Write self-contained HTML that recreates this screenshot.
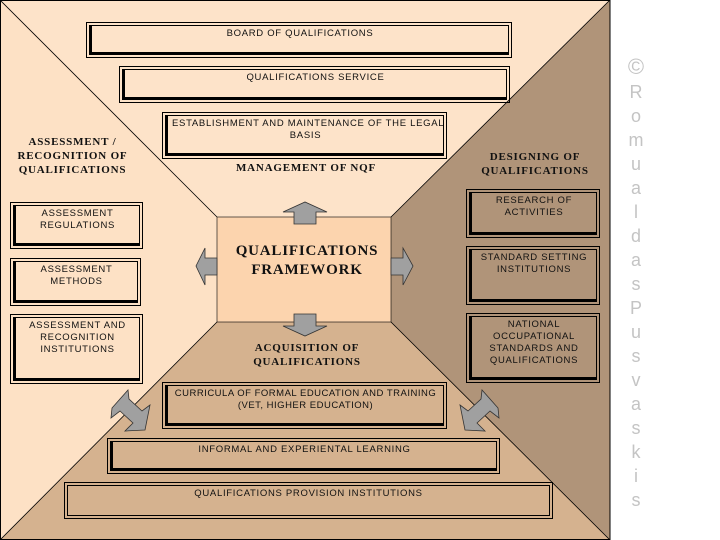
<!DOCTYPE html>
<html><head><meta charset="utf-8"><style>
body{margin:0;width:720px;height:540px;background:#fff;position:relative;overflow:hidden;font-family:"Liberation Sans",sans-serif}
.b{position:absolute;border:1px solid #000;padding:2px;box-sizing:border-box}
.b>div{border:1px solid #000;border-left:3px solid #000;border-bottom:3px solid #000;height:100%;box-sizing:border-box;text-align:center;font-size:9.5px;line-height:12px;letter-spacing:0.7px;padding:2px 4px 0;color:#111;white-space:nowrap}
.h{position:absolute;font-family:"Liberation Serif",serif;font-weight:bold;font-size:11px;line-height:14px;text-align:center;letter-spacing:0.8px;color:#111}
.cp{position:absolute;left:626px;width:20px;text-align:center;color:#c4c4c4;font-size:18px;line-height:24px;top:55px}
</style></head><body>
<svg width="720" height="540" style="position:absolute;left:0;top:0">
<polygon points="0,0 610,0 391,217 217,217" fill="#fde3c9"/>
<polygon points="0,0 217,217 217,322 0,540" fill="#fde1c5"/>
<polygon points="610,0 610,540 391,322 391,217" fill="#b09479"/>
<polygon points="0,540 217,322 391,322 610,540" fill="#d5b28f"/>
<rect x="217" y="217" width="174" height="105" fill="#fcd4ae" stroke="#000" stroke-width="0.6"/>
<g stroke="#000" stroke-width="0.8"><line x1="0" y1="0" x2="217" y2="217"/><line x1="610" y1="0" x2="391" y2="217"/><line x1="0" y1="540" x2="217" y2="322"/><line x1="610" y1="540" x2="391" y2="322"/></g>
<rect x="0.5" y="0.5" width="609.5" height="539" fill="none" stroke="#000"/>
<g fill="#a0a0a0" stroke="#333" stroke-width="0.8">
<polygon points="294,224 294,212 283,212 305,202 327,212 316,212 316,224"/>
<polygon points="294,314 294,326 283,326 305,336 327,326 316,326 316,314"/>
<polygon points="217,258 205,258 205,248 196,266 205,285 205,275 217,275"/>
<polygon points="391,258 403,258 403,248 413,266 403,285 403,275 391,275"/>
<polygon points="112,408 128,390 129,399 142,411 150,405 145,430 125,431 133,423 120,411 111,418"/>
<polygon points="498,408 482,390 481,399 468,411 460,405 465,430 485,431 477,423 490,411 499,418"/>
</g>
</svg>
<div class="b" style="left:86px;top:22px;width:426px;height:36px"><div>BOARD OF QUALIFICATIONS</div></div>
<div class="b" style="left:119px;top:66px;width:391px;height:37px"><div>QUALIFICATIONS SERVICE</div></div>
<div class="b" style="left:162px;top:112px;width:285px;height:47px"><div>ESTABLISHMENT AND MAINTENANCE OF THE LEGAL<br>BASIS</div></div>
<div class="h" style="left:200px;top:161px;width:212px">MANAGEMENT OF NQF</div>
<div class="h" style="left:0;top:135px;width:145px">ASSESSMENT /<br>RECOGNITION OF<br>QUALIFICATIONS</div>
<div class="b" style="left:10px;top:202px;width:133px;height:47px"><div>ASSESSMENT<br>REGULATIONS</div></div>
<div class="b" style="left:10px;top:258px;width:131px;height:48px"><div>ASSESSMENT<br>METHODS</div></div>
<div class="b" style="left:10px;top:314px;width:133px;height:70px"><div>ASSESSMENT AND<br>RECOGNITION<br>INSTITUTIONS</div></div>
<div class="h" style="left:470px;top:150px;width:130px">DESIGNING OF<br>QUALIFICATIONS</div>
<div class="b" style="left:466px;top:189px;width:134px;height:49px"><div>RESEARCH OF<br>ACTIVITIES</div></div>
<div class="b" style="left:466px;top:246px;width:134px;height:59px"><div>STANDARD SETTING<br>INSTITUTIONS</div></div>
<div class="b" style="left:466px;top:313px;width:134px;height:70px"><div>NATIONAL<br>OCCUPATIONAL<br>STANDARDS AND<br>QUALIFICATIONS</div></div>
<div class="h" style="left:217px;top:242px;width:180px;font-size:15px;line-height:19px">QUALIFICATIONS<br>FRAMEWORK</div>
<div class="h" style="left:217px;top:341px;width:180px">ACQUISITION OF<br>QUALIFICATIONS</div>
<div class="b" style="left:162px;top:382px;width:285px;height:47px"><div style="padding:2px 0 0;letter-spacing:0.5px">CURRICULA OF FORMAL EDUCATION AND TRAINING<br>(VET, HIGHER EDUCATION)</div></div>
<div class="b" style="left:107px;top:438px;width:393px;height:36px"><div>INFORMAL AND EXPERIENTAL LEARNING</div></div>
<div class="b" style="left:64px;top:482px;width:489px;height:37px"><div style="border-width:1px">QUALIFICATIONS PROVISION INSTITUTIONS</div></div>
<div class="cp"><span style="font-size:22px">©</span><br>R<br>o<br>m<br>u<br>a<br>l<br>d<br>a<br>s<br>P<br>u<br>s<br>v<br>a<br>s<br>k<br>i<br>s</div>
</body></html>
